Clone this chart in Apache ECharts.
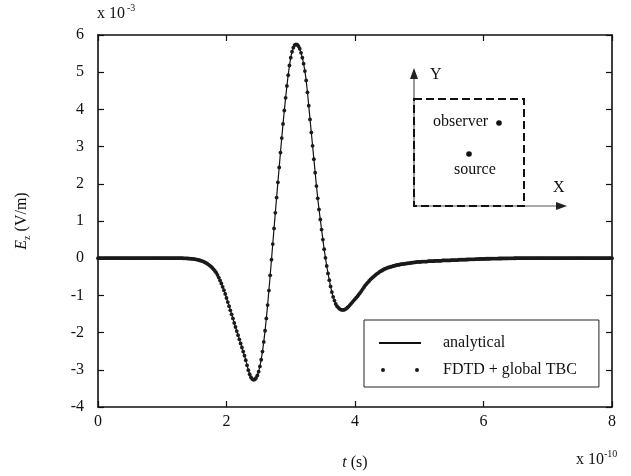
<!DOCTYPE html>
<html>
<head>
<meta charset="utf-8">
<script src="https://cdn.jsdelivr.net/npm/echarts@6/dist/echarts.min.js"></script>
<style>
  html, body { margin: 0; padding: 0; background: #fff; }
  #chart { width: 631px; height: 476px; }
</style>
</head>
<body>
<div id="chart"></div>
<script>
// Time grid of the sampled field (units of 1e-10 s)
const tStart = 0;
const tStep = 0.02;

// E_z samples along the time grid (units of 1e-3 V/m)
const ezValues = [
  // 0.00 - 1.30
  0, 0, 0, 0, 0, 0, 0, 0, 0, 0,
  0, 0, 0, 0, 0, 0, 0, 0, 0, 0,
  0, 0, 0, 0, 0, 0, 0, 0, 0, 0,
  0, 0, 0, 0, 0, 0, 0, 0, 0, 0,
  0, 0, 0, 0, 0, 0, 0, 0, 0, 0,
  0, 0, 0, 0, 0, 0, 0, 0, 0, 0,
  0, 0, 0, 0, 0, 0,
  // 1.32 - 1.50
  -0.002, -0.003, -0.004, -0.006, -0.008, -0.010, -0.013, -0.016, -0.020, -0.025,
  // 1.52 - 1.70
  -0.031, -0.038, -0.046, -0.055, -0.066, -0.078, -0.092, -0.108, -0.126, -0.147,
  // 1.72 - 1.90
  -0.171, -0.198, -0.228, -0.262, -0.300, -0.342, -0.390, -0.45, -0.52, -0.60,
  // 1.92 - 2.10
  -0.68, -0.77, -0.86, -0.96, -1.07, -1.18, -1.29, -1.40, -1.51, -1.62,
  // 2.12 - 2.30
  -1.74, -1.85, -1.96, -2.07, -2.18, -2.29, -2.40, -2.51, -2.62, -2.74,
  // 2.32 - 2.50
  -2.88, -3.01, -3.12, -3.20, -3.25, -3.27, -3.26, -3.22, -3.15, -3.05,
  // 2.52 - 2.70
  -2.91, -2.73, -2.51, -2.25, -1.95, -1.62, -1.26, -0.87, -0.46, -0.04,
  // 2.72 - 2.90
  0.38, 0.80, 1.22, 1.63, 2.04, 2.44, 2.84, 3.23, 3.61, 3.97,
  // 2.92 - 3.10
  4.31, 4.63, 4.92, 5.18, 5.39, 5.55, 5.66, 5.73, 5.75, 5.74,
  // 3.12 - 3.30
  5.70, 5.63, 5.52, 5.39, 5.23, 5.03, 4.78, 4.46, 4.10, 3.73,
  // 3.32 - 3.50
  3.38, 3.02, 2.66, 2.30, 1.94, 1.61, 1.31, 1.04, 0.77, 0.50,
  // 3.52 - 3.70
  0.24, 0.01, -0.21, -0.41, -0.59, -0.76, -0.91, -1.04, -1.14, -1.23,
  // 3.72 - 3.90
  -1.29, -1.33, -1.36, -1.38, -1.39, -1.39, -1.38, -1.36, -1.33, -1.30,
  // 3.92 - 4.10
  -1.26, -1.22, -1.18, -1.14, -1.10, -1.06, -1.02, -0.97, -0.93, -0.88,
  // 4.12 - 4.30
  -0.83, -0.78, -0.73, -0.69, -0.65, -0.61, -0.57, -0.54, -0.51, -0.48,
  // 4.32 - 4.50
  -0.45, -0.42, -0.40, -0.37, -0.35, -0.33, -0.31, -0.29, -0.28, -0.26,
  // 4.52 - 4.70
  -0.25, -0.24, -0.23, -0.22, -0.21, -0.20, -0.19, -0.18, -0.18, -0.17,
  // 4.72 - 4.90
  -0.16, -0.16, -0.15, -0.15, -0.14, -0.14, -0.13, -0.13, -0.12, -0.12,
  // 4.92 - 5.10
  -0.11, -0.11, -0.10, -0.10, -0.10, -0.10, -0.09, -0.09, -0.09, -0.09,
  // 5.12 - 5.30
  -0.09, -0.08, -0.08, -0.08, -0.08, -0.08, -0.07, -0.07, -0.07, -0.07,
  // 5.32 - 5.50
  -0.07, -0.07, -0.06, -0.06, -0.06, -0.06, -0.06, -0.06, -0.06, -0.05,
  // 5.52 - 5.70
  -0.05, -0.05, -0.05, -0.05, -0.05, -0.04, -0.04, -0.04, -0.04, -0.04,
  // 5.72 - 5.90
  -0.04, -0.035, -0.035, -0.03, -0.03, -0.03, -0.03, -0.03, -0.025, -0.025,
  // 5.92 - 6.10
  -0.025, -0.02, -0.02, -0.02, -0.02, -0.02, -0.015, -0.015, -0.015, -0.015,
  // 6.12 - 6.30
  -0.01, -0.01, -0.01, -0.01, -0.01, -0.01, -0.008, -0.008, -0.008, -0.006,
  // 6.32 - 6.50
  -0.006, -0.006, -0.005, -0.005, -0.004, -0.004, -0.003, -0.003, -0.002, -0.002,
  // 6.52 - 8.00
  0, 0, 0, 0, 0, 0, 0, 0, 0, 0,
  0, 0, 0, 0, 0, 0, 0, 0, 0, 0,
  0, 0, 0, 0, 0, 0, 0, 0, 0, 0,
  0, 0, 0, 0, 0, 0, 0, 0, 0, 0,
  0, 0, 0, 0, 0, 0, 0, 0, 0, 0,
  0, 0, 0, 0, 0, 0, 0, 0, 0, 0,
  0, 0, 0, 0, 0, 0, 0, 0, 0, 0,
  0, 0, 0, 0, 0
];

// Axis ranges and tick spacing
const tRange = [0, 8];
const tTickStep = 2;
const ezRange = [-4, 6];
const ezTickStep = 1;

// Series names shown in the legend
const seriesNames = ['analytical', 'FDTD + global TBC'];

const ink = '#111';
const serif = '"Liberation Serif", "Times New Roman", serif';

const points = ezValues.map((v, i) => [+(tStart + i * tStep).toFixed(2), v]);

const frameLine = { onZero: false, lineStyle: { color: ink, width: 1.6 } };
const innerTicks = { show: true, inside: true, length: 6, lineStyle: { color: ink, width: 1.2 } };
const tickFont = { color: ink, fontFamily: serif, fontSize: 16 };

const chart = echarts.init(document.getElementById('chart'), null, { renderer: 'canvas' });

chart.setOption({
  animation: false,
  backgroundColor: '#fff',
  grid: { left: 98, right: 19, top: 35, bottom: 67 },
  xAxis: [
    {
      type: 'value', min: tRange[0], max: tRange[1], interval: tTickStep,
      position: 'bottom',
      axisLine: frameLine, axisTick: innerTicks,
      axisLabel: Object.assign({ margin: 7 }, tickFont),
      splitLine: { show: false },
      name: '{i|t} (s)', nameLocation: 'middle', nameGap: 48,
      nameTextStyle: {
        color: ink, fontFamily: serif, fontSize: 16,
        rich: { i: { fontStyle: 'italic', fontFamily: serif, fontSize: 16, color: ink } }
      }
    },
    {
      type: 'value', min: tRange[0], max: tRange[1], interval: tTickStep,
      position: 'top',
      axisLine: frameLine, axisTick: innerTicks,
      axisLabel: { show: false }, splitLine: { show: false }
    }
  ],
  yAxis: [
    {
      type: 'value', min: ezRange[0], max: ezRange[1], interval: ezTickStep,
      position: 'left',
      axisLine: frameLine, axisTick: innerTicks,
      axisLabel: Object.assign({ margin: 14 }, tickFont),
      splitLine: { show: false },
      name: '{i|E}{s|z} (V/m)', nameLocation: 'middle', nameGap: 66, nameRotate: 90,
      nameTextStyle: {
        color: ink, fontFamily: serif, fontSize: 16, lineHeight: 20,
        rich: {
          i: { fontStyle: 'italic', fontFamily: serif, fontSize: 16, lineHeight: 20, color: ink },
          s: { fontFamily: serif, fontSize: 10, lineHeight: 12, verticalAlign: 'bottom', color: ink }
        }
      }
    },
    {
      type: 'value', min: ezRange[0], max: ezRange[1], interval: ezTickStep,
      position: 'right',
      axisLine: frameLine, axisTick: innerTicks,
      axisLabel: { show: false }, splitLine: { show: false }
    }
  ],
  legend: {
    left: 364, top: 320, orient: 'vertical',
    padding: [15, 22, 9, 15],
    itemGap: 11, itemWidth: 42, itemHeight: 4,
    borderColor: '#222', borderWidth: 1, backgroundColor: '#fff',
    itemStyle: { borderWidth: 0, opacity: 1 },
    textStyle: { color: ink, fontFamily: serif, fontSize: 16, padding: [0, 0, 0, 17] },
    data: [
      { name: seriesNames[0], icon: 'path://M0,0H42V2H0Z' },
      { name: seriesNames[1], icon: 'path://M0,2A2,2,0,1,1,4,2A2,2,0,1,1,0,2ZM34,2A2,2,0,1,1,38,2A2,2,0,1,1,34,2Z' }
    ]
  },
  series: [
    {
      name: seriesNames[0], type: 'line', xAxisIndex: 0, yAxisIndex: 0,
      data: points, showSymbol: false, symbol: 'none',
      color: ink,
      lineStyle: { color: ink, width: 1.2 },
      itemStyle: { color: ink },
      z: 2
    },
    {
      name: seriesNames[1], type: 'scatter', xAxisIndex: 0, yAxisIndex: 0,
      data: points, symbol: 'circle', symbolSize: 3.8,
      color: '#1a1a1a',
      itemStyle: { color: '#1a1a1a', opacity: 1 },
      z: 3
    }
  ],
  graphic: [
    // scale factors of the axes
    { type: 'text', x: 97, y: 14, style: { text: 'x 10', font: '16px ' + serif, fill: ink, verticalAlign: 'middle' } },
    { type: 'text', x: 127, y: 8, style: { text: '-3', font: '10px ' + serif, fill: ink, verticalAlign: 'middle' } },
    { type: 'text', x: 576, y: 460, style: { text: 'x 10', font: '16px ' + serif, fill: ink, verticalAlign: 'middle' } },
    { type: 'text', x: 604, y: 454, style: { text: '-10', font: '10px ' + serif, fill: ink, verticalAlign: 'middle' } },
    // geometry sketch: coordinate arrows
    { type: 'line', shape: { x1: 414, y1: 206, x2: 414, y2: 76 }, style: { stroke: '#555', lineWidth: 1.2 } },
    { type: 'polygon', shape: { points: [[414, 68], [410, 79], [418, 79]] }, style: { fill: '#222' } },
    { type: 'line', shape: { x1: 414, y1: 206, x2: 558, y2: 206 }, style: { stroke: '#555', lineWidth: 1.2 } },
    { type: 'polygon', shape: { points: [[567, 206], [556, 202], [556, 210]] }, style: { fill: '#222' } },
    // computational domain
    { type: 'rect', shape: { x: 414, y: 99, width: 110, height: 107 }, style: { fill: 'transparent', stroke: ink, lineWidth: 2, lineDash: [8, 4] } },
    // observer and source points
    { type: 'circle', shape: { cx: 499, cy: 123, r: 2.8 }, style: { fill: ink } },
    { type: 'circle', shape: { cx: 469, cy: 154, r: 2.8 }, style: { fill: ink } },
    { type: 'text', x: 430, y: 75, style: { text: 'Y', font: '16px ' + serif, fill: ink, verticalAlign: 'middle' } },
    { type: 'text', x: 553, y: 188, style: { text: 'X', font: '16px ' + serif, fill: ink, verticalAlign: 'middle' } },
    { type: 'text', x: 433, y: 122, style: { text: 'observer', font: '16px ' + serif, fill: ink, verticalAlign: 'middle' } },
    { type: 'text', x: 454, y: 170, style: { text: 'source', font: '16px ' + serif, fill: ink, verticalAlign: 'middle' } }
  ]
});
</script>
</body>
</html>
